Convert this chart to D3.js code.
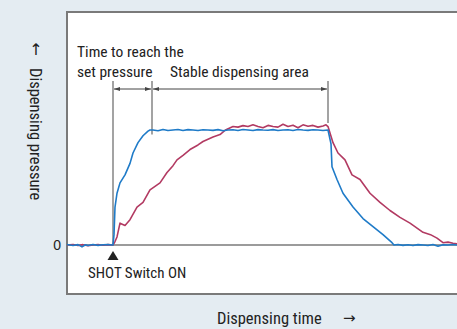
<!DOCTYPE html>
<html><head><meta charset="utf-8">
<script src="https://cdn.jsdelivr.net/npm/d3@7"></script>
<style>
html,body{margin:0;padding:0;background:#e4ecf2;}
svg{display:block;}
text{font-family:"Liberation Sans Narrow","Roboto Condensed","Liberation Sans",Arial,sans-serif;fill:#222;}
</style></head><body>
<svg id="c" width="457" height="329"></svg>
<script>
// Time (arbitrary units, SHOT switch ON at t=0) and pressure (% of set pressure)
const blueTime = [-9.2,-8,-7,-6.2,-5.5,-5,-4,-3,-2,-1,-0.2,0,0.2,0.4,0.8,1.4,2.4,3.4,4,5,6,7,7.4,8,9,10,11,12,13,14,15,16,17,18,19,20,21,22,23,24,25,26,27,28,29,30,31,32,33,34,35,36,37,38,39,40,41,42,43,43.6,43.8,44.8,46,48,50,52,54,55.8,56.2,57,58,59,60,61,62,63,64,65,66,67,68,68.8];
const bluePressure = [0.5,-0.4,0.3,-1.6,0.2,-0.4,0.5,-0.3,0.2,0.4,0,0,9,33,45,54,61,71,80,89,95,99,100,100,99.4,100.5,99.5,100,100.4,99.6,100.3,100,99.5,100.2,100,99.7,100.3,99.4,100,100.2,99.6,100.4,100,99.5,100.3,100,99.8,100.3,99.6,100,100.2,99.6,100.4,100,99.7,100.2,100,99.6,100,88,68,57,45,33,23,16,9,2,0,0.4,-0.3,0.2,-0.5,0.3,0,-0.4,0.4,-1,0.2,0,0.4,0];
const redTime = [-9.2,-8,-7,-6,-5,-4,-3,-2,-1,0,0.4,0.8,1.4,2.4,3.4,4.8,6,7.4,8.4,9.4,10.8,12,12.8,14,15.4,17,18,20,21.4,22.5,24,25,26,27,28,29,30,31,32,33,34,35,36,37,38,39,40,41,42,42.6,43,44,45,46.4,47.8,49.4,51.4,53.4,55.4,57.4,59.4,62,63.5,64.8,66,67,68,68.8];
const redPressure = [0,0.5,-0.5,0.3,-0.7,0,0.4,-0.2,0.3,0,3,7,19,17,22,33,37,48,51,54,63,69,74,78,83,87,90,94,96,100,103,102.5,103.8,103,104.5,103,102,104,103,102.5,105,103,104.2,102,104.5,103.2,104,102.5,103.5,104.5,103,89,80,74,61,57,45,37,30,24,19,11,9,6,2,2.5,1.5,1];
const yTicks = [0];
const labels = {
  yTitle: "Dispensing pressure",
  xTitle: "Dispensing time",
  shot: "SHOT Switch ON",
  reach1: "Time to reach the",
  reach2: "set pressure",
  stable: "Stable dispensing area"
};
const reachT = 7.8, stableEndT = 43;

const svg = d3.select("#c");
const panel = {x0:67, x1:470, y0:12, y1:294};
const x = d3.scaleLinear().domain([-9.2, 68.8]).range([67, 457]);
const y = d3.scaleLinear().domain([0, 100]).range([245, 130]);

svg.append("rect").attr("x",panel.x0).attr("y",panel.y0).attr("width",panel.x1-panel.x0).attr("height",panel.y1-panel.y0)
  .attr("fill","#fff").attr("stroke","#7a7a7a").attr("stroke-width",2);

// zero axis line
const yAxis = d3.axisLeft(y).tickValues(yTicks).tickSize(0).tickPadding(6);
const ya = svg.append("g").attr("transform","translate(67,0)").call(yAxis);
ya.select(".domain").remove();
ya.selectAll("text").attr("font-size",14).style("font-family","'Liberation Sans Narrow','Liberation Sans',sans-serif").attr("fill","#333");
svg.append("line").attr("x1",x(-9.2)).attr("x2",457).attr("y1",y(0)).attr("y2",y(0)).attr("stroke","#7a7a7a").attr("stroke-width",1.5);

// annotation lines
const gray = "#666";
svg.append("line").attr("x1",x(0)).attr("x2",x(0)).attr("y1",81).attr("y2",y(0)).attr("stroke",gray).attr("stroke-width",1.2);
svg.append("line").attr("x1",x(reachT)).attr("x2",x(reachT)).attr("y1",81).attr("y2",y(96)).attr("stroke",gray).attr("stroke-width",1.2);
svg.append("line").attr("x1",x(stableEndT)).attr("x2",x(stableEndT)).attr("y1",81).attr("y2",y(106)).attr("stroke",gray).attr("stroke-width",1.2);

const defs = svg.append("defs");
defs.append("marker").attr("id","ah").attr("viewBox","0 0 10 10").attr("refX",10).attr("refY",5)
  .attr("markerWidth",6).attr("markerHeight",6).attr("orient","auto-start-reverse").attr("markerUnits","userSpaceOnUse")
  .append("path").attr("d","M0,1.5 L10,5 L0,8.5 z").attr("fill","#444");
const arrowY = 89;
svg.append("line").attr("x1",x(0)+1).attr("x2",x(reachT)-1).attr("y1",arrowY).attr("y2",arrowY)
  .attr("stroke","#444").attr("stroke-width",1).attr("marker-start","url(#ah)").attr("marker-end","url(#ah)");
svg.append("line").attr("x1",x(reachT)+1).attr("x2",x(stableEndT)-1).attr("y1",arrowY).attr("y2",arrowY)
  .attr("stroke","#444").attr("stroke-width",1).attr("marker-start","url(#ah)").attr("marker-end","url(#ah)");

// curves
const line = d3.line().x(d=>x(d[0])).y(d=>y(d[1])).curve(d3.curveLinear);
const redData = d3.zip(redTime, redPressure);
const blueData = d3.zip(blueTime, bluePressure);
svg.append("path").datum(redData).attr("d",line).attr("fill","none").attr("stroke","#b23a62").attr("stroke-width",1.6).attr("stroke-linejoin","round");
svg.append("path").datum(blueData).attr("d",line).attr("fill","none").attr("stroke","#1f7bc8").attr("stroke-width",1.6).attr("stroke-linejoin","round");

// shot triangle
const tx = x(0);
svg.append("path").attr("d",`M${tx},251 L${tx+5.5},260 L${tx-5.5},260 Z`).attr("fill","#222");

// texts
const fs = 15.5;
svg.append("text").attr("x",77).attr("y",57).attr("font-size",fs).text(labels.reach1);
svg.append("text").attr("x",77).attr("y",77).attr("font-size",fs).text(labels.reach2);
svg.append("text").attr("x",170).attr("y",77).attr("font-size",fs).text(labels.stable);
svg.append("text").attr("x",88).attr("y",278).attr("font-size",15).text(labels.shot);
svg.append("text").attr("x",217).attr("y",324).attr("font-size",16.5).text(labels.xTitle);
svg.append("text").attr("x",343).attr("y",323).attr("font-size",15).style("font-family","'DejaVu Sans',sans-serif").text("→");
svg.append("text").attr("x",36).attr("y",55).attr("text-anchor","middle").attr("font-size",16).style("font-family","'DejaVu Sans',sans-serif").text("↑");
svg.append("text").attr("transform","translate(30,68) rotate(90)").attr("font-size",16.5).text(labels.yTitle);
</script></body></html>
